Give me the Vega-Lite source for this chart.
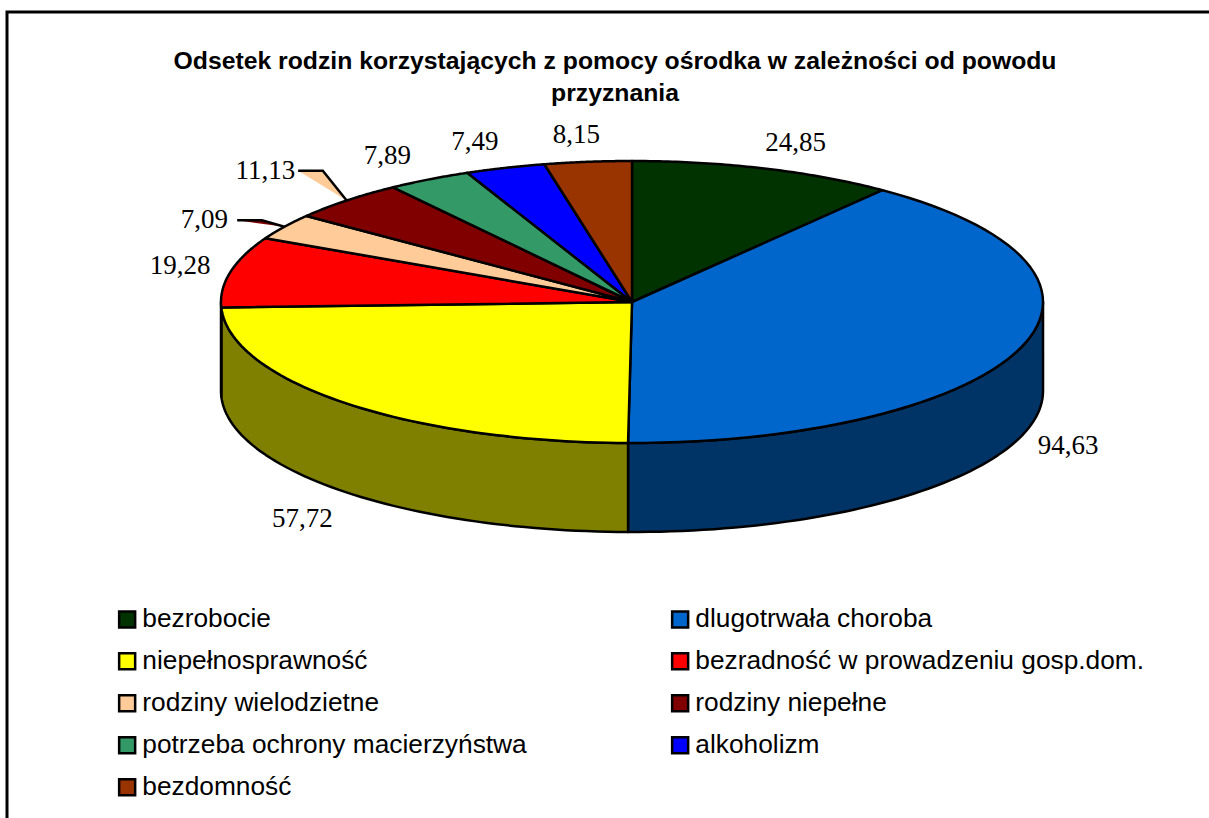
{
"$schema":"https://vega.github.io/schema/vega-lite/v6.json",
"width":1204,"height":808,
"autosize":{"type":"none"},
"padding":{"left":7,"top":12,"right":0,"bottom":0},
"background":"white",
"config":{"view":{"stroke":"black","strokeWidth":3},"axis":{"domain":false,"grid":false,"ticks":false,"labels":false,"title":null}},
"title":{"text":["Odsetek rodzin korzystających z pomocy ośrodka w zależności od powodu","przyznania"],"anchor":"start","frame":"group","align":"center","dx":608,"dy":98,"font":"Liberation Sans","fontSize":24.75,"fontWeight":"bold","color":"black","lineHeight":32},
"data":{"values":[
{"name":"bezrobocie","value":24.85},
{"name":"dlugotrwała choroba","value":94.63},
{"name":"niepełnosprawność","value":57.72},
{"name":"bezradność w prowadzeniu gosp.dom.","value":19.28},
{"name":"rodziny wielodzietne","value":7.09},
{"name":"rodziny niepełne","value":11.13},
{"name":"potrzeba ochrony macierzyństwa","value":7.89},
{"name":"alkoholizm","value":7.49},
{"name":"bezdomność","value":8.15}
]},
"transform":[
{"joinaggregate":[{"op":"sum","field":"value","as":"total"}]},
{"window":[{"op":"sum","field":"value","as":"cum"}]},
{"calculate":"(datum.cum-datum.value)/datum.total*2*PI","as":"a0"},
{"calculate":"datum.cum/datum.total*2*PI","as":"a1"},
{"calculate":"(datum.a0+datum.a1)/2","as":"mid"},
{"calculate":"cos(datum.mid)","as":"cm"},
{"calculate":"datum.value==7.09||datum.value==11.13","as":"lead"},
{"calculate":"datum.lead?0.98*sin(datum.mid)-0.212:(datum.cm>0?1.125+0.14*pow(datum.cm,4):1.115+0.07*datum.cm*datum.cm)*sin(datum.mid)","as":"lx"},
{"calculate":"datum.lead?1.89*datum.cm-0.43:(datum.cm<0?(1.19+0.14*datum.cm*datum.cm)*datum.cm-0.631:1.19*datum.cm)","as":"ly"},
{"calculate":"replace(format(datum.value,'.2f'),'.',',')","as":"label"}
],
"layer":[
{
"transform":[
{"calculate":"max(datum.a0,PI/2)","as":"s0"},
{"calculate":"min(datum.a1,3*PI/2)","as":"s1"},
{"filter":"datum.s1>datum.s0"},
{"calculate":"sequence(0,122)","as":"steps"},
{"flatten":["steps"],"as":["step"]},
{"calculate":"datum.step<=60?datum.s0+(datum.s1-datum.s0)*datum.step/60:datum.s1-(datum.s1-datum.s0)*(datum.step-61)/60","as":"t"},
{"calculate":"sin(datum.t)","as":"px"},
{"calculate":"cos(datum.t)-(datum.step>60?0.631:0)","as":"py"}
],
"mark":{"type":"line","interpolate":"linear-closed","stroke":"black","strokeWidth":2.5,"strokeJoin":"round"},
"encoding":{
"x":{"field":"px","type":"quantitative","axis":null,"scale":{"domain":[-1.5207,1.4087],"nice":false,"zero":false}},
"y":{"field":"py","type":"quantitative","axis":null,"scale":{"domain":[-3.67376,2.05674],"nice":false,"zero":false}},
"order":{"field":"step","type":"quantitative"},
"fill":{"field":"name","type":"nominal","legend":null,"scale":{"domain":["dlugotrwała choroba","niepełnosprawność","bezradność w prowadzeniu gosp.dom."],"range":["#003366","#808000","#800000"]}}
}
},
{
"transform":[
{"calculate":"sequence(-1,61)","as":"steps"},
{"flatten":["steps"],"as":["step"]},
{"calculate":"datum.a0+(datum.a1-datum.a0)*datum.step/60","as":"t"},
{"calculate":"datum.step<0?0:sin(datum.t)","as":"px"},
{"calculate":"datum.step<0?0:cos(datum.t)","as":"py"}
],
"mark":{"type":"line","interpolate":"linear-closed","stroke":"black","strokeWidth":2.5,"strokeJoin":"round"},
"encoding":{
"x":{"field":"px","type":"quantitative","axis":null,"scale":{"domain":[-1.5207,1.4087],"nice":false,"zero":false}},
"y":{"field":"py","type":"quantitative","axis":null,"scale":{"domain":[-3.67376,2.05674],"nice":false,"zero":false}},
"order":{"field":"step","type":"quantitative"},
"fill":{"field":"name","type":"nominal",
"scale":{"domain":["bezrobocie","dlugotrwała choroba","niepełnosprawność","bezradność w prowadzeniu gosp.dom.","rodziny wielodzietne","rodziny niepełne","potrzeba ochrony macierzyństwa","alkoholizm","bezdomność"],"range":["#003300","#0066CC","#FFFF00","#FF0000","#FFCC99","#800000","#339966","#0000FF","#993300"]},
"legend":{"title":null,"orient":"none","legendX":107,"legendY":594,"direction":"horizontal","columns":2,"gridAlign":"all","symbolType":"square","symbolSize":256,"symbolStrokeColor":"black","symbolStrokeWidth":2.5,"labelFont":"Liberation Sans","labelFontSize":26.3,"labelColor":"black","labelLimit":600,"labelOffset":2,"rowPadding":15,"columnPadding":75,"symbolOpacity":1}}
}
},
{
"transform":[
{"filter":"datum.lead"},
{"calculate":"[0,1,2]","as":"steps"},
{"flatten":["steps"],"as":["step"]},
{"calculate":"datum.step==2?sin(datum.mid):datum.lx+(datum.step==0?0.08:0.14)","as":"px"},
{"calculate":"datum.step==2?cos(datum.mid):datum.ly","as":"py"}
],
"mark":{"type":"line","stroke":"black","strokeWidth":2.5},
"encoding":{
"x":{"field":"px","type":"quantitative","axis":null,"scale":{"domain":[-1.5207,1.4087],"nice":false,"zero":false}},
"y":{"field":"py","type":"quantitative","axis":null,"scale":{"domain":[-3.67376,2.05674],"nice":false,"zero":false}},
"order":{"field":"step","type":"quantitative"},
"fill":{"field":"name","type":"nominal","legend":null,"scale":{"domain":["rodziny wielodzietne","rodziny niepełne"],"range":["#800000","#FFCC99"]}}
}
},
{
"mark":{"type":"text","font":"Liberation Serif","fontSize":27,"color":"black","align":"center","baseline":"middle"},
"encoding":{
"x":{"field":"lx","type":"quantitative","axis":null,"scale":{"domain":[-1.5207,1.4087],"nice":false,"zero":false}},
"y":{"field":"ly","type":"quantitative","axis":null,"scale":{"domain":[-3.67376,2.05674],"nice":false,"zero":false}},
"text":{"field":"label","type":"nominal"}
}
}
],
"resolve":{"scale":{"fill":"independent"},"legend":{"fill":"independent"}}
}
